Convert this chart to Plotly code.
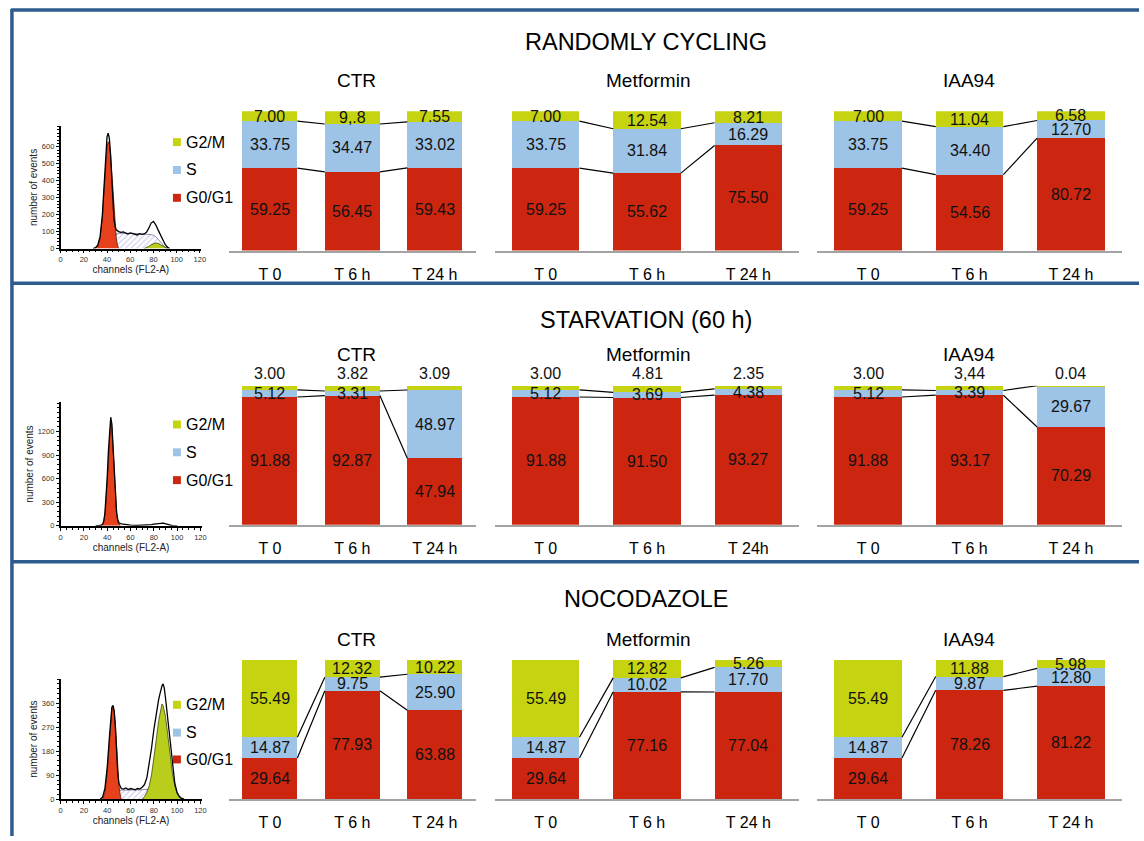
import plotly.graph_objects as go

W, H = 1144, 841
FONT = "Liberation Sans, Arial, sans-serif"

# ---------------- data ----------------
phases = ["G0/G1", "S", "G2/M"]
phase_colors = {"G0/G1": "#CC2610", "S": "#9DC3E6", "G2/M": "#C6D311"}

panel_titles = ["RANDOMLY CYCLING", "STARVATION (60 h)", "NOCODAZOLE"]
treatments = ["CTR", "Metformin", "IAA94"]

times_cycling = [["T 0", "T 6 h", "T 24 h"], ["T 0", "T 6 h", "T 24 h"], ["T 0", "T 6 h", "T 24 h"]]
times_starvation = [["T 0", "T 6 h", "T 24 h"], ["T 0", "T 6 h", "T 24h"], ["T 0", "T 6 h", "T 24 h"]]
times_nocodazole = [["T 0", "T 6 h", "T 24 h"], ["T 0", "T 6 h", "T 24 h"], ["T 0", "T 6 h", "T 24 h"]]

# percentages per time point (T0, T6h, T24h)
cycling_ctr = {"G0/G1": [59.25, 56.45, 59.43], "S": [33.75, 34.47, 33.02], "G2/M": [7.00, 9.08, 7.55]}
cycling_metformin = {"G0/G1": [59.25, 55.62, 75.50], "S": [33.75, 31.84, 16.29], "G2/M": [7.00, 12.54, 8.21]}
cycling_iaa94 = {"G0/G1": [59.25, 54.56, 80.72], "S": [33.75, 34.40, 12.70], "G2/M": [7.00, 11.04, 6.58]}

starv_ctr = {"G0/G1": [91.88, 92.87, 47.94], "S": [5.12, 3.31, 48.97], "G2/M": [3.00, 3.82, 3.09]}
starv_metformin = {"G0/G1": [91.88, 91.50, 93.27], "S": [5.12, 3.69, 4.38], "G2/M": [3.00, 4.81, 2.35]}
starv_iaa94 = {"G0/G1": [91.88, 93.17, 70.29], "S": [5.12, 3.39, 29.67], "G2/M": [3.00, 3.44, 0.04]}

noco_ctr = {"G0/G1": [29.64, 77.93, 63.88], "S": [14.87, 9.75, 25.90], "G2/M": [55.49, 12.32, 10.22]}
noco_metformin = {"G0/G1": [29.64, 77.16, 77.04], "S": [14.87, 10.02, 17.70], "G2/M": [55.49, 12.82, 5.26]}
noco_iaa94 = {"G0/G1": [29.64, 78.26, 81.22], "S": [14.87, 9.87, 12.80], "G2/M": [55.49, 11.88, 5.98]}

# labels printed differently from the 2-decimal value
label_overrides = {(0, 0, "G2/M", 1): "9,.8", (1, 2, "G2/M", 1): "3,44"}

# --- DNA histograms (channels FL2-A vs number of events) ---
h1_out_ch = [28, 30, 32, 34, 36, 37, 38, 39, 40, 41, 42, 43, 44, 45, 46, 47, 48, 50, 52, 54, 56, 58, 60, 62, 64, 66, 68, 70, 72, 74, 76, 78, 80, 82, 84, 86, 88, 90, 92, 94]
h1_out_n = [0, 5, 20, 70, 200, 330, 470, 590, 660, 680, 650, 560, 400, 250, 170, 130, 110, 100, 95, 98, 90, 85, 92, 88, 86, 80, 88, 84, 86, 95, 120, 150, 160, 140, 110, 80, 50, 25, 8, 0]
h1_g1_ch = [30, 32, 34, 36, 37, 38, 39, 40, 41, 42, 43, 44, 45, 46, 47, 48, 49, 50]
h1_g1_n = [0, 15, 60, 180, 300, 420, 530, 600, 630, 620, 560, 460, 330, 210, 120, 60, 20, 0]
h1_s_ch = [42, 44, 46, 48, 50, 54, 58, 62, 66, 70, 74, 78, 80, 82, 84, 86, 88, 90, 92]
h1_s_n = [0, 30, 65, 85, 90, 92, 90, 90, 88, 88, 86, 82, 78, 70, 55, 38, 20, 8, 0]
h1_g2_ch = [72, 74, 76, 78, 80, 82, 84, 86, 88, 90, 92]
h1_g2_n = [0, 5, 12, 22, 30, 33, 30, 22, 12, 4, 0]

h2_out_ch = [30, 34, 36, 37, 38, 39, 40, 41, 42, 43, 44, 45, 46, 47, 48, 49, 50, 52, 54, 56, 60, 66, 72, 76, 78, 80, 82, 84, 86, 88, 90, 92, 94, 96, 100]
h2_out_n = [0, 5, 20, 60, 160, 340, 620, 950, 1250, 1380, 1290, 1000, 680, 380, 180, 80, 40, 25, 20, 12, 8, 6, 8, 10, 15, 22, 28, 30, 32, 35, 28, 18, 8, 3, 0]
h2_g1_ch = [35, 36, 37, 38, 39, 40, 41, 42, 43, 44, 45, 46, 47, 48, 49, 50, 51]
h2_g1_n = [0, 15, 50, 140, 310, 580, 900, 1200, 1330, 1250, 960, 640, 350, 160, 60, 20, 0]

h3_out_ch = [34, 36, 38, 40, 42, 43, 44, 45, 46, 47, 48, 49, 50, 52, 54, 56, 58, 60, 62, 64, 66, 68, 70, 72, 74, 76, 78, 80, 82, 84, 85, 86, 87, 88, 89, 90, 92, 94, 96, 98, 100, 102, 104, 106]
h3_out_n = [0, 8, 40, 120, 240, 310, 345, 352, 330, 270, 180, 100, 60, 40, 38, 42, 36, 40, 38, 35, 40, 38, 45, 55, 80, 130, 190, 260, 320, 370, 390, 410, 425, 432, 415, 380, 300, 200, 120, 60, 25, 10, 3, 0]
h3_g1_ch = [36, 38, 40, 41, 42, 43, 44, 45, 46, 47, 48, 49, 50, 51, 52]
h3_g1_n = [0, 25, 100, 170, 240, 300, 340, 347, 330, 280, 200, 120, 55, 20, 0]
h3_s_ch = [44, 46, 48, 50, 52, 56, 60, 64, 68, 72, 76, 78, 80, 84, 88, 92, 96, 100]
h3_s_n = [0, 10, 22, 30, 34, 35, 35, 35, 35, 36, 38, 38, 36, 30, 22, 12, 5, 0]
h3_g2_ch = [70, 72, 74, 76, 78, 80, 82, 84, 86, 87, 88, 90, 92, 94, 96, 98, 100, 102, 104]
h3_g2_n = [0, 10, 25, 50, 90, 150, 220, 290, 345, 357, 350, 310, 240, 160, 95, 50, 20, 6, 0]

hist_y_ticks = [[0, 100, 200, 300, 400, 500, 600], [0, 300, 600, 900, 1200], [0, 90, 180, 270, 360]]
hist_x_ticks = [0, 20, 40, 60, 80, 100, 120]

panel_data = [[cycling_ctr, cycling_metformin, cycling_iaa94],
              [starv_ctr, starv_metformin, starv_iaa94],
              [noco_ctr, noco_metformin, noco_iaa94]]
panel_times = [times_cycling, times_starvation, times_nocodazole]

# ---------------- geometry (pixels) ----------------
rows = [dict(title_y=42, sub_y=81, top=112, bot=252),
        dict(title_y=322, sub_y=357, top=388, bot=528),
        dict(title_y=603, sub_y=643, top=664, bot=804)]
group_px = [(228, 477), (496, 802), (820.5, 1126.5)]
sub_px = [357, 650, 973]
BAR_W = 0.667
G2M_ABOVE = [False, True, False]

hist_geo = [dict(x0=59, xs=1.167, y0=250, ys=0.1705, ymax=720, ydt=20),
            dict(x0=59, xs=1.172, y0=529, ys=0.0792, ymax=1570, ydt=60),
            dict(x0=59, xs=1.172, y0=804, ys=0.2685, ymax=450, ydt=18)]
legend_rows = [[143, 171, 199], [427, 455, 483], [709, 737, 764]]


def px(x):
    return x / W


def py(y):
    return 1 - y / H


def ax_name(n):
    return "" if n == 1 else str(n)


fig = go.Figure()
layout = dict(width=W, height=H, margin=dict(l=0, r=0, t=0, b=0),
              paper_bgcolor="white", plot_bgcolor="white", showlegend=False,
              barmode="stack", font=dict(family=FONT, color="black"))
annotations = []
shapes = []


def paper_text(text, x, y, size, xanchor="center"):
    return dict(text=text, x=px(x), y=py(y), xref="paper", yref="paper", xanchor=xanchor, yanchor="middle",
                showarrow=False, font=dict(size=size, color="black", family=FONT))


n = 0
for p in range(3):
    r = rows[p]
    annotations.append(paper_text(panel_titles[p], 648, r["title_y"], 23.5))
    for g in range(3):
        n += 1
        s = ax_name(n)
        d = panel_data[p][g]
        x0, x1 = group_px[g]
        layout["xaxis" + s] = dict(domain=[px(x0), px(x1)], anchor="y" + s, range=[-0.5, 2.5],
                                   tickmode="array", tickvals=[0, 1, 2], ticktext=panel_times[p][g],
                                   showline=True, linecolor="#A3A3A3", linewidth=2, ticks="",
                                   showgrid=False, zeroline=False, fixedrange=True,
                                   ticklabelstandoff=8,
                                   tickfont=dict(size=16, color="black", family=FONT))
        layout["yaxis" + s] = dict(domain=[py(r["bot"]), py(r["top"])], anchor="x" + s, range=[0, 100],
                                   visible=False, fixedrange=True)
        for ph in phases:
            fig.add_trace(go.Bar(x=[0, 1, 2], y=d[ph], width=BAR_W, marker=dict(color=phase_colors[ph], line=dict(width=0)),
                                 xaxis="x" + s, yaxis="y" + s, name=ph, hoverinfo="skip"))
        cum_r = d["G0/G1"]
        cum_s = [a + b for a, b in zip(d["G0/G1"], d["S"])]
        lx, ly = [], []
        for i in range(2):
            for c in (cum_r, cum_s):
                lx += [i + BAR_W / 2, i + 1 - BAR_W / 2, None]
                ly += [c[i], c[i + 1], None]
        fig.add_trace(go.Scatter(x=lx, y=ly, mode="lines", line=dict(color="black", width=1.2),
                                 xaxis="x" + s, yaxis="y" + s, hoverinfo="skip"))
        for i in range(3):
            g0, sv, m = d["G0/G1"][i], d["S"][i], d["G2/M"][i]
            pos = {"G0/G1": (g0 / 2, 0), "S": (g0 + sv / 2, 0), "G2/M": (g0 + sv + m / 2, 0)}
            if G2M_ABOVE[p]:
                pos["G2/M"] = (100, 12)
            for ph in phases:
                txt = label_overrides.get((p, g, ph, i), f"{d[ph][i]:.2f}")
                yv, sh = pos[ph]
                annotations.append(dict(text=txt, x=i, y=yv, yshift=sh, xref="x" + s, yref="y" + s,
                                        xanchor="center", yanchor="middle", borderpad=0,
                                        showarrow=False, font=dict(size=16, color="#111111", family=FONT)))
        annotations.append(paper_text(treatments[g], sub_px[g], r["sub_y"], 19))

# ---------------- histograms ----------------
hist_sets = [
    dict(out=(h1_out_ch, h1_out_n), g1=(h1_g1_ch, h1_g1_n), s=(h1_s_ch, h1_s_n), g2=(h1_g2_ch, h1_g2_n)),
    dict(out=(h2_out_ch, h2_out_n), g1=(h2_g1_ch, h2_g1_n), s=None, g2=None),
    dict(out=(h3_out_ch, h3_out_n), g1=(h3_g1_ch, h3_g1_n), s=(h3_s_ch, h3_s_n), g2=(h3_g2_ch, h3_g2_n)),
]
for p in range(3):
    n += 1
    s = ax_name(n)
    geo = hist_geo[p]
    xr = 121
    layout["xaxis" + s] = dict(domain=[px(geo["x0"]), px(geo["x0"] + xr * geo["xs"])], anchor="y" + s,
                               range=[0, xr], tickvals=hist_x_ticks, showline=True, linecolor="black",
                               linewidth=1.5, ticks="outside", ticklen=3, tickwidth=1, tickcolor="black",
                               showgrid=False, zeroline=False, fixedrange=True,
                               minor=dict(ticks="outside", ticklen=2, dtick=5, tickcolor="black", showgrid=False),
                               tickfont=dict(size=7.5, color="#333", family=FONT),
                               title=dict(text="channels (FL2-A)", font=dict(size=10, color="#222", family=FONT), standoff=2))
    layout["yaxis" + s] = dict(domain=[py(geo["y0"]), py(geo["y0"] - geo["ymax"] * geo["ys"])], anchor="x" + s,
                               range=[0, geo["ymax"]], tickvals=hist_y_ticks[p], showline=True, linecolor="black",
                               linewidth=1.5, ticks="outside", ticklen=3, tickwidth=1, tickcolor="black",
                               showgrid=False, zeroline=False, fixedrange=True,
                               minor=dict(ticks="outside", ticklen=2, dtick=geo["ydt"], tickcolor="black", showgrid=False),
                               tickfont=dict(size=7.5, color="#333", family=FONT),
                               title=dict(text="number of events", font=dict(size=10, color="#222", family=FONT), standoff=2))
    hs = hist_sets[p]
    if hs["s"]:
        fig.add_trace(go.Scatter(x=hs["s"][0], y=hs["s"][1], mode="lines", fill="tozeroy",
                                 line=dict(color="#6E6E9E", width=0.8),
                                 fillcolor="rgba(255,255,255,0)",
                                 fillpattern=dict(shape="/", fgcolor="#8E8ECC", bgcolor="white", size=4, solidity=0.25),
                                 xaxis="x" + s, yaxis="y" + s, hoverinfo="skip"))
    fig.add_trace(go.Scatter(x=hs["g1"][0], y=hs["g1"][1], mode="lines", fill="tozeroy",
                             line=dict(color="#5A1A0A", width=0.8), fillcolor="#E6401C",
                             xaxis="x" + s, yaxis="y" + s, hoverinfo="skip"))
    if hs["g2"]:
        fig.add_trace(go.Scatter(x=hs["g2"][0], y=hs["g2"][1], mode="lines", fill="tozeroy",
                                 line=dict(color="#3C4A06", width=0.8), fillcolor="#B9CD1C",
                                 xaxis="x" + s, yaxis="y" + s, hoverinfo="skip"))
    fig.add_trace(go.Scatter(x=hs["out"][0], y=hs["out"][1], mode="lines",
                             line=dict(color="black", width=1.3),
                             xaxis="x" + s, yaxis="y" + s, hoverinfo="skip"))

    # legend
    for k, ph in enumerate(["G2/M", "S", "G0/G1"]):
        yy = legend_rows[p][k]
        shapes.append(dict(type="rect", xref="paper", yref="paper", x0=px(172), x1=px(180),
                           y0=py(yy + 4), y1=py(yy - 4), fillcolor=phase_colors[ph], line=dict(width=0)))
        annotations.append(paper_text(ph, 183, yy, 16, xanchor="left"))

# ---------------- frame lines ----------------
BLUE = "#2F5C8E"
for yy in (10, 285, 565):
    shapes.append(dict(type="line", xref="paper", yref="paper", x0=px(9), x1=1, y0=py(yy), y1=py(yy),
                       line=dict(color=BLUE, width=3.5)))
shapes.append(dict(type="line", xref="paper", yref="paper", x0=px(10), x1=px(10), y0=py(9), y1=0,
                   line=dict(color=BLUE, width=3.5)))

layout["annotations"] = annotations
layout["shapes"] = shapes
fig.update_layout(**layout)
fig.write_html("out.html", config={"displayModeBar": False},
               post_script="document.body.style.margin='0px';document.body.style.overflow='hidden';")
